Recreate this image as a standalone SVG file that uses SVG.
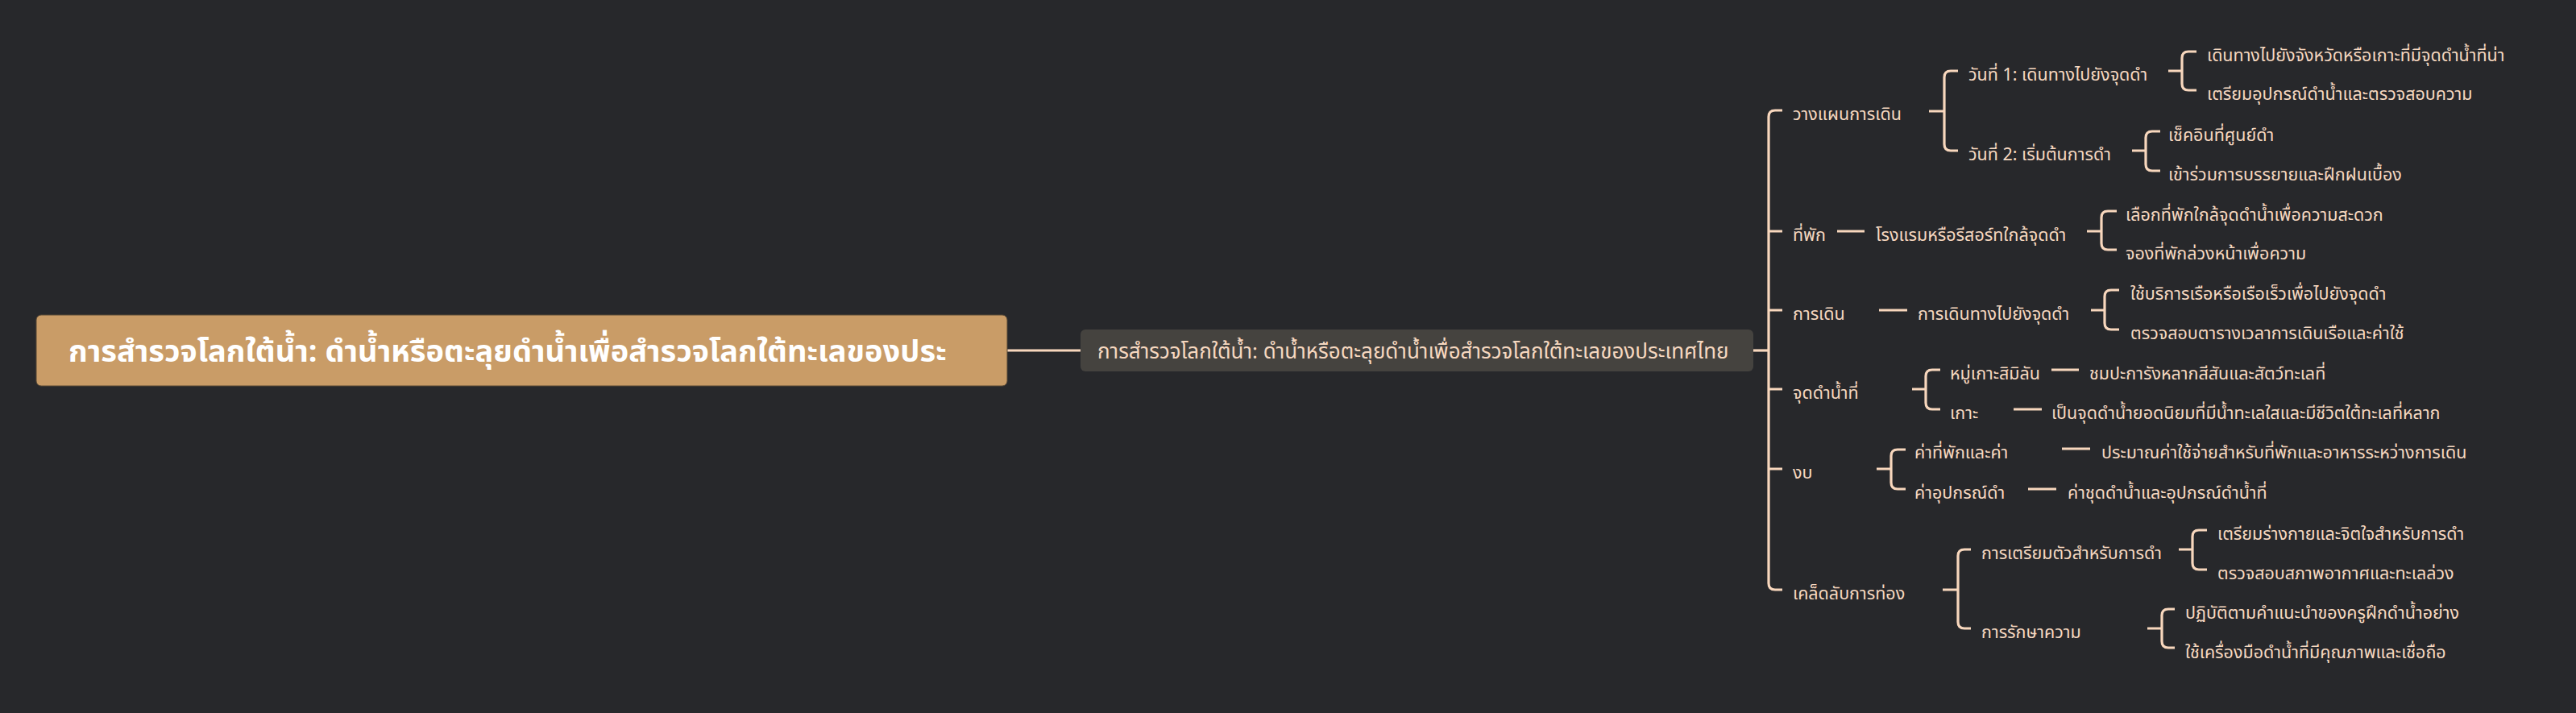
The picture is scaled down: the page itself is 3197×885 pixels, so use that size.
<svg xmlns="http://www.w3.org/2000/svg" width="3197" height="885" viewBox="0 0 3197 885">
<style>
.bg{fill:#27282b}
.ln{fill:none;stroke:#f8d7bd;stroke-width:3.2;stroke-linecap:butt}
text{font-family:"Noto Sans Thai","Noto Sans Thai UI","Loma","Garuda","Liberation Sans",sans-serif;dominant-baseline:central}
.t{fill:#f6d8c0;font-size:21.5px}
.root{fill:#ffffff;font-size:38px;font-weight:bold}
.ctr{fill:#f6d8c0;font-size:26px}
</style>
<rect class="bg" x="0" y="0" width="3197" height="885"/>
<g id="connectors">
<line class="ln" x1="1250" y1="435" x2="1341" y2="435"/>
<line class="ln" x1="2176" y1="435" x2="2195" y2="435"/>
<path class="ln" d="M2212,137 H2203 Q2195,137 2195,145 V724 Q2195,732 2203,732 H2212"/>
<path class="ln" d="M2195,287 H2212 M2195,385 H2212 M2195,483 H2212 M2195,582 H2212"/>
<path class="ln" d="M2394,138 H2413 M2430,88 H2421 Q2413,88 2413,96 V179 Q2413,187 2421,187 H2430"/>
<line class="ln" x1="2280" y1="287" x2="2314" y2="287"/>
<line class="ln" x1="2332" y1="385" x2="2367" y2="385"/>
<path class="ln" d="M2373,483 H2390 M2408,459 H2398 Q2390,459 2390,467 V500 Q2390,508 2398,508 H2408"/>
<path class="ln" d="M2329,582 H2347 M2365,558 H2355 Q2347,558 2347,566 V599 Q2347,607 2355,607 H2365"/>
<path class="ln" d="M2411,732 H2430 M2446,682 H2438 Q2430,682 2430,690 V772 Q2430,780 2438,780 H2446"/>
<path class="ln" d="M2691,88 H2708 M2726,64 H2716 Q2708,64 2708,72 V104 Q2708,112 2716,112 H2726"/>
<path class="ln" d="M2646,187 H2663 M2681,163 H2671 Q2663,163 2663,171 V204 Q2663,212 2671,212 H2681"/>
<path class="ln" d="M2590,287 H2608 M2627,262 H2616 Q2608,262 2608,270 V302 Q2608,310 2616,310 H2627"/>
<path class="ln" d="M2595,385 H2612 M2630,360 H2620 Q2612,360 2612,368 V401 Q2612,409 2620,409 H2630"/>
<line class="ln" x1="2546" y1="459" x2="2580" y2="459"/>
<line class="ln" x1="2499" y1="508" x2="2534" y2="508"/>
<line class="ln" x1="2559" y1="557" x2="2594" y2="557"/>
<line class="ln" x1="2517" y1="607" x2="2552" y2="607"/>
<path class="ln" d="M2704,682 H2721 M2739,658 H2729 Q2721,658 2721,666 V699 Q2721,707 2729,707 H2739"/>
<path class="ln" d="M2665,780 H2683 M2699,756 H2691 Q2683,756 2683,764 V796 Q2683,804 2691,804 H2699"/>
</g>
<g id="root">
<rect x="45" y="391" width="1205" height="88" rx="6" fill="#c99c67" stroke="#5a4a36" stroke-width="1"/>
<text class="root" x="85" y="437">การสำรวจโลกใต้น้ำ: ดำน้ำหรือตะลุยดำน้ำเพื่อสำรวจโลกใต้ทะเลของประ</text>
</g>
<g id="center">
<rect x="1341" y="409" width="835" height="52" rx="6" fill="#45433f"/>
<text class="ctr" x="1362" y="437">การสำรวจโลกใต้น้ำ: ดำน้ำหรือตะลุยดำน้ำเพื่อสำรวจโลกใต้ทะเลของประเทศไทย</text>
</g>
<g id="n-plan"><text class="t" x="2225" y="142">วางแผนการเดิน</text></g>
<g id="n-stay"><text class="t" x="2225" y="292">ที่พัก</text></g>
<g id="n-travel"><text class="t" x="2225" y="390">การเดิน</text></g>
<g id="n-spots"><text class="t" x="2225" y="488">จุดดำน้ำที่</text></g>
<g id="n-budget"><text class="t" x="2225" y="587">งบ</text></g>
<g id="n-tips"><text class="t" x="2225" y="737">เคล็ดลับการท่อง</text></g>
<g id="n-day1"><text class="t" x="2443" y="93">วันที่ 1: เดินทางไปยังจุดดำ</text></g>
<g id="n-day2"><text class="t" x="2443" y="192">วันที่ 2: เริ่มต้นการดำ</text></g>
<g id="n-hotel"><text class="t" x="2328" y="292">โรงแรมหรือรีสอร์ทใกล้จุดดำ</text></g>
<g id="n-trip"><text class="t" x="2380" y="390">การเดินทางไปยังจุดดำ</text></g>
<g id="n-similan"><text class="t" x="2420" y="464">หมู่เกาะสิมิลัน</text></g>
<g id="n-island"><text class="t" x="2420" y="513">เกาะ</text></g>
<g id="n-cost1"><text class="t" x="2376" y="562">ค่าที่พักและค่า</text></g>
<g id="n-cost2"><text class="t" x="2376" y="612">ค่าอุปกรณ์ดำ</text></g>
<g id="n-prep"><text class="t" x="2459" y="687">การเตรียมตัวสำหรับการดำ</text></g>
<g id="n-safety"><text class="t" x="2459" y="785">การรักษาความ</text></g>
<g id="n-d1a"><text class="t" x="2739" y="69">เดินทางไปยังจังหวัดหรือเกาะที่มีจุดดำน้ำที่น่า</text></g>
<g id="n-d1b"><text class="t" x="2739" y="117">เตรียมอุปกรณ์ดำน้ำและตรวจสอบความ</text></g>
<g id="n-d2a"><text class="t" x="2691" y="168">เช็คอินที่ศูนย์ดำ</text></g>
<g id="n-d2b"><text class="t" x="2691" y="217">เข้าร่วมการบรรยายและฝึกฝนเบื้อง</text></g>
<g id="n-h1"><text class="t" x="2638" y="267">เลือกที่พักใกล้จุดดำน้ำเพื่อความสะดวก</text></g>
<g id="n-h2"><text class="t" x="2638" y="315">จองที่พักล่วงหน้าเพื่อความ</text></g>
<g id="n-t1"><text class="t" x="2644" y="365">ใช้บริการเรือหรือเรือเร็วเพื่อไปยังจุดดำ</text></g>
<g id="n-t2"><text class="t" x="2644" y="414">ตรวจสอบตารางเวลาการเดินเรือและค่าใช้</text></g>
<g id="n-s1"><text class="t" x="2593" y="464">ชมปะการังหลากสีสันและสัตว์ทะเลที่</text></g>
<g id="n-s2"><text class="t" x="2546" y="513">เป็นจุดดำน้ำยอดนิยมที่มีน้ำทะเลใสและมีชีวิตใต้ทะเลที่หลาก</text></g>
<g id="n-c1"><text class="t" x="2608" y="562">ประมาณค่าใช้จ่ายสำหรับที่พักและอาหารระหว่างการเดิน</text></g>
<g id="n-c2"><text class="t" x="2566" y="612">ค่าชุดดำน้ำและอุปกรณ์ดำน้ำที่</text></g>
<g id="n-p1"><text class="t" x="2752" y="663">เตรียมร่างกายและจิตใจสำหรับการดำ</text></g>
<g id="n-p2"><text class="t" x="2752" y="712">ตรวจสอบสภาพอากาศและทะเลล่วง</text></g>
<g id="n-k1"><text class="t" x="2712" y="761">ปฏิบัติตามคำแนะนำของครูฝึกดำน้ำอย่าง</text></g>
<g id="n-k2"><text class="t" x="2712" y="810">ใช้เครื่องมือดำน้ำที่มีคุณภาพและเชื่อถือ</text></g>
</svg>
